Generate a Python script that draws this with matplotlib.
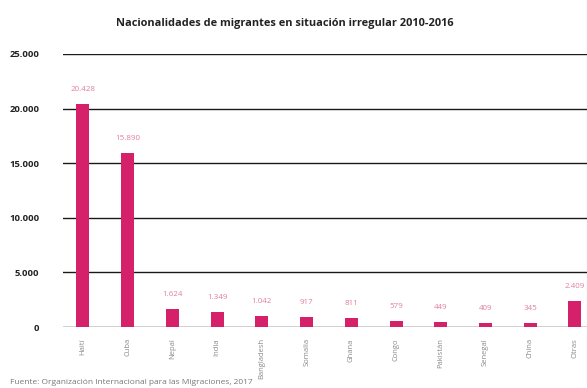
import matplotlib.pyplot as plt
import numpy as np

plt.rcParams['font.family'] = ['Open Sans', 'DejaVu Sans']

paises = ['Haití', 'Cuba', 'Nepal', 'India', 'Bangladesh', 'Somalia', 'Ghana',
          'Congo', 'Pakistán', 'Senegal', 'China', 'Otras']
migrantes = [20428, 15890, 1624, 1349, 1042, 917, 811, 579, 449, 409, 345, 2409]
yticks = [0, 5000, 10000, 15000, 20000, 25000]

BAR_COLOR = '#d4216a'
LABEL_COLOR = '#e07fa3'


def miles(v):
    return f'{v:,}'.replace(',', '.')


fig = plt.figure(figsize=(5.87, 3.88), dpi=100)
ax = fig.add_axes([0.107, 0.157, 0.893, 0.704])

x = np.arange(len(paises))
ax.bar(x, migrantes, width=0.29, color=BAR_COLOR, zorder=3)

for xi, v in zip(x, migrantes):
    ax.annotate(miles(v), (xi, v), xytext=(0, 8), textcoords='offset points',
                ha='center', va='bottom', fontsize=5.8, color=LABEL_COLOR)

ax.set_xlim(-0.45, 11.27)
ax.set_ylim(0, 25000)
ax.set_yticks(yticks)
ax.set_yticklabels([miles(t) for t in yticks], fontsize=6.8, fontweight='bold',
                   color='#222222')
ax.grid(axis='y', color='#1a1a1a', linewidth=1.0, zorder=0)
ax.set_xticks(x)
ax.set_xticklabels(paises, rotation=90, fontsize=5.5, color='#8a8a8a', va='top')
ax.tick_params(axis='y', length=0, pad=17)
ax.tick_params(axis='x', length=0, pad=8)
for s in ax.spines.values():
    s.set_visible(False)

fig.text(0.486, 0.94, 'Nacionalidades de migrantes en situación irregular 2010-2016',
         ha='center', va='center', fontsize=7.9, fontweight='bold', color='#222222')
fig.text(0.017, 0.004, 'Fuente: Organización Internacional para las Migraciones, 2017',
         ha='left', va='bottom', fontsize=6, color='#777777')

fig.savefig('out.png', dpi=100)
